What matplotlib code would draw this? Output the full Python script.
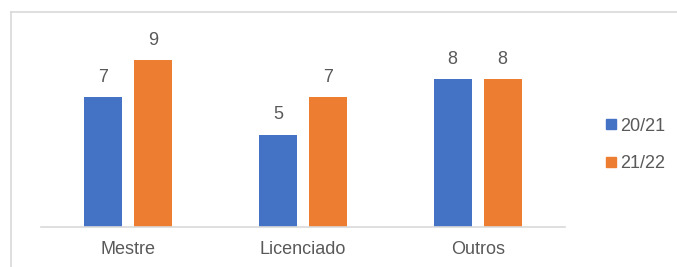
import numpy as np
import matplotlib.pyplot as plt
from matplotlib.lines import Line2D

categories = ['Mestre', 'Licenciado', 'Outros']
series_names = ['20/21', '21/22']
values_2021 = [7, 5, 8]
values_2122 = [9, 7, 8]
colors = ['#4472C4', '#ED7D31']

plt.rcParams['font.family'] = ['Liberation Sans', 'DejaVu Sans']
text_color = '#595959'

fig = plt.figure(figsize=(6.77, 2.67), dpi=100)
W, H = 677, 267
ax = fig.add_axes([41 / W, 1 - 227 / H, 524 / W, (227 - 42) / H])

x = np.arange(len(categories))
bw = 0.2175
off = 0.143
b1 = ax.bar(x - off, values_2021, bw, color=colors[0], label=series_names[0])
b2 = ax.bar(x + off, values_2122, bw, color=colors[1], label=series_names[1])
for bars in (b1, b2):
    ax.bar_label(bars, padding=8, fontsize=13, color=text_color)

ax.set_xlim(-0.5, len(categories) - 0.5)
ax.set_ylim(0, 10)
ax.set_xticks(x, labels=categories)
ax.tick_params(axis='x', length=0, pad=10, labelsize=13, labelcolor=text_color)
ax.set_yticks([])
for s in ('top', 'right', 'left'):
    ax.spines[s].set_visible(False)
ax.spines['bottom'].set_color('#D9D9D9')
ax.spines['bottom'].set_linewidth(1.2)

handles = [Line2D([], [], marker='s', linestyle='none', markersize=7.5,
                  markerfacecolor=c, markeredgecolor=c) for c in colors]
fig.legend(handles, series_names, loc='center left',
           bbox_to_anchor=(586 / W, 1 - 145 / H), frameon=False,
           fontsize=13, labelcolor=text_color, handletextpad=0.0,
           labelspacing=1.15, handlelength=1.0)

# chart frame (only top and left edges visible in the crop)
fig.add_artist(Line2D([11 / W, 1], [1 - 12 / H, 1 - 12 / H], color='#D9D9D9', lw=1.2))
fig.add_artist(Line2D([11 / W, 11 / W], [0, 1 - 12 / H], color='#D9D9D9', lw=1.2))

fig.savefig('out.png', dpi=100)
